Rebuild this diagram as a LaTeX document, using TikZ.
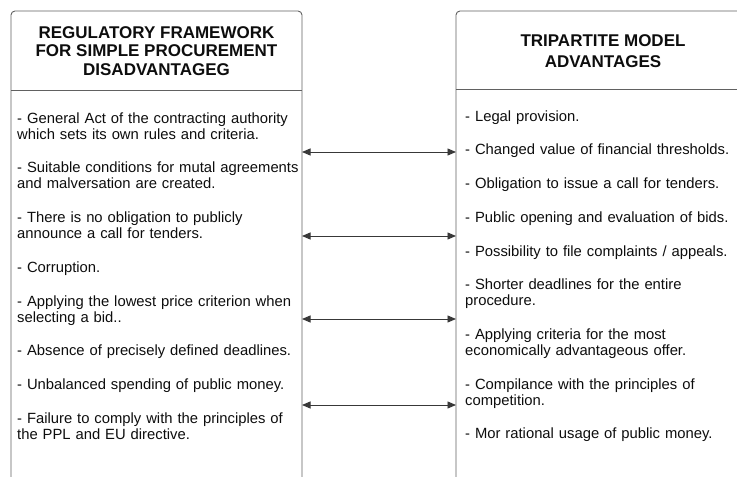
\documentclass[tikz,border=0pt]{standalone}
\usepackage{fontspec}
\setmainfont{Liberation Sans}
\usetikzlibrary{arrows.meta,positioning}

\begin{document}
\begin{tikzpicture}[
    x=1pt, y=-1pt,
    node distance=17.3pt,
    frame/.style={draw=black!62, line width=0.9pt, rounded corners=4pt},
    head/.style={inner sep=0pt, align=center, text=black!95,
                 font=\fontsize{17}{18.5}\selectfont\bfseries},
    litem/.style={inner sep=0pt, align=left, text width=285pt, text=black!95,
                  font=\fontsize{14.8}{16}\selectfont},
    ritem/.style={litem, text width=270pt},
    link/.style={{Triangle[length=8.5pt,width=7pt]}-{Triangle[length=8.5pt,width=7pt]},
                 draw=black!78, line width=0.9pt}
]
\useasboundingbox (0,0) rectangle (737,477);
\begin{scope}
\clip (0,0) rectangle (737,477);
\draw[frame] (11,480) -- (11,11) -- (302,11) -- (302,480);
\draw[frame] (456,480) -- (456,11) -- (750,11) -- (750,480);
\draw[draw=black!62, line width=0.9pt] (11,90) -- (302,90);
\draw[draw=black!62, line width=0.9pt] (456,89.5) -- (750,89.5);
\end{scope}

\node[head] (lhead) at (156.5,51) {REGULATORY FRAMEWORK\\FOR SIMPLE PROCUREMENT\\DISADVANTAGEG};
\node[head, font=\fontsize{17}{21.5}\selectfont\bfseries] (rhead) at (603,51) {TRIPARTITE MODEL\\ADVANTAGES};

\node[litem, anchor=north west] (l1) at (17,111.8) {\strut- General Act of the contracting authority\\\strut which sets its own rules and criteria.};
\node[litem, below=of l1] (l2) {\strut- Suitable conditions for mutal agreements\\\strut and malversation are created.};
\node[litem, below=of l2] (l3) {\strut- There is no obligation to publicly\\\strut announce a call for tenders.};
\node[litem, below=of l3] (l4) {\strut- Corruption.};
\node[litem, below=of l4] (l5) {\strut- Applying the lowest price criterion when\\\strut selecting a bid..};
\node[litem, below=of l5] (l6) {\strut- Absence of precisely defined deadlines.};
\node[litem, below=of l6] (l7) {\strut- Unbalanced spending of public money.};
\node[litem, below=of l7] (l8) {\strut- Failure to comply with the principles of\\\strut the PPL and EU directive.};

\node[ritem, anchor=north west] (r1) at (465,109.8) {\strut- Legal provision.};
\node[ritem, below=of r1] (r2) {\strut- Changed value of financial thresholds.};
\node[ritem, below=of r2] (r3) {\strut- Obligation to issue a call for tenders.};
\node[ritem, below=of r3] (r4) {\strut- Public opening and evaluation of bids.};
\node[ritem, below=of r4] (r5) {\strut- Possibility to file complaints / appeals.};
\node[ritem, below=of r5] (r6) {\strut- Shorter deadlines for the entire\\\strut procedure.};
\node[ritem, below=of r6] (r7) {\strut- Applying criteria for the most\\\strut economically advantageous offer.};
\node[ritem, below=of r7] (r8) {\strut- Compilance with the principles of\\\strut competition.};
\node[ritem, below=of r8] (r9) {\strut- Mor rational usage of public money.};

\coordinate (la1) at (302,152); \coordinate (ra1) at (456,152);
\coordinate (la2) at (302,236); \coordinate (ra2) at (456,236);
\coordinate (la3) at (302,319); \coordinate (ra3) at (456,319);
\coordinate (la4) at (302,405); \coordinate (ra4) at (456,405);
\draw[link] (la1)--(ra1); \draw[link] (la2)--(ra2);
\draw[link] (la3)--(ra3); \draw[link] (la4)--(ra4);
\end{tikzpicture}
\end{document}
